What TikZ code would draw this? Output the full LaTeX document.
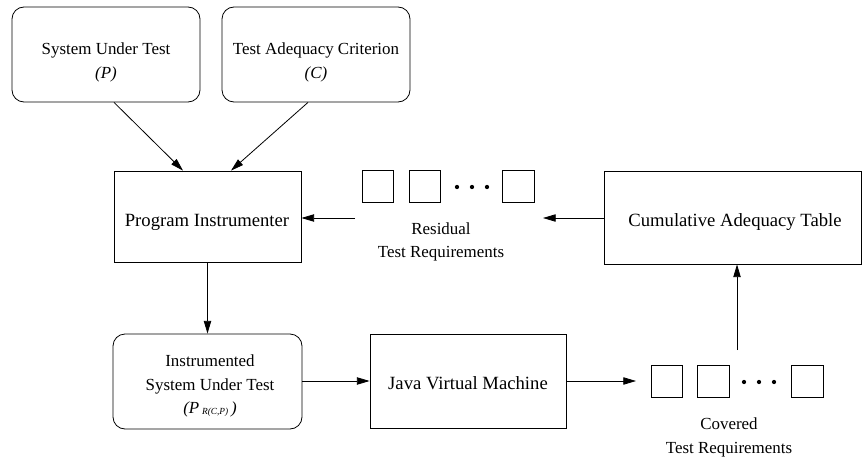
\documentclass[tikz,border=0pt]{standalone}
\usepackage{fontspec}
\setmainfont{Liberation Serif}
\usetikzlibrary{arrows.meta,calc}

\begin{document}
\begin{tikzpicture}[x=0.75pt,y=-0.75pt,
  line width=0.6pt,
  box/.style={draw,rectangle,inner sep=0pt},
  rbox/.style={box,rounded corners=9pt},
  big/.style={font=\fontsize{14}{17}\selectfont,inner sep=0pt},
  small/.style={font=\fontsize{12.7}{17.7}\selectfont,align=center,inner sep=0pt},
  req/.style={draw,rectangle,inner sep=0pt,minimum width=23.5pt,minimum height=23.5pt},
  dot/.style={fill,circle,inner sep=0pt,minimum size=3.2pt},
  flow/.style={-{Triangle[length=9.5pt,width=5.5pt]}}
]
\useasboundingbox (0,0) rectangle (862,456);

% inputs
\node[rbox,minimum width=141pt,minimum height=71.25pt] (sut) at (106,54.5) {};
\node[small] (suttext) at (106,62.5) {System Under Test\\\textit{(P)}};
\node[rbox,minimum width=141pt,minimum height=71.25pt] (tac) at (316,54.5) {};
\node[small] (tactext) at (316,62.5) {Test Adequacy Criterion\\\textit{(C)}};

% instrumenter
\node[box,minimum width=140.25pt,minimum height=68.25pt] (pi) at (207.5,216.5) {};
\node[big] (pitext) at (207,222) {Program Instrumenter};

% cumulative adequacy table
\node[box,minimum width=192.75pt,minimum height=69.75pt] (cum) at (732.5,217.5) {};
\node[big] (cumtext) at (735,222) {Cumulative Adequacy Table};

% instrumented program
\node[rbox,minimum width=141.75pt,minimum height=71.25pt] (isut) at (207.5,381.5) {};
\node[small] (isuttext) at (210,386) {Instrumented\\System Under Test\\
  \textit{(P}\,\raisebox{-0.8pt}{\fontsize{7}{8}\selectfont\textit{R(C,P)}}\,\textit{)}};

% virtual machine
\node[box,minimum width=147pt,minimum height=70.5pt] (jvm) at (468,381) {};
\node[big] (jvmtext) at (468,383.5) {Java Virtual Machine};

% residual test requirements
\node[req] (r1) at (378,186.5) {};
\node[req] (r2) at (425,186.5) {};
\node[dot] (rd1) at (457,187) {};
\node[dot] (rd2) at (472,187) {};
\node[dot] (rd3) at (487,187) {};
\node[req] (r3) at (518.5,186.5) {};
\node[small] (reslabel) at (441,242) {Residual\\Test Requirements};

% covered test requirements
\node[req] (c1) at (667,381.5) {};
\node[req] (c2) at (713.5,381.5) {};
\node[dot] (cd1) at (744,382) {};
\node[dot] (cd2) at (759,382) {};
\node[dot] (cd3) at (774,382) {};
\node[req] (c3) at (807.5,381.5) {};
\node[small] (covlabel) at (729,437.5) {Covered\\Test Requirements};

% free ends of the connectors beside the requirement lists
\coordinate (resin) at (543,218);
\coordinate (resout) at (355,218);
\coordinate (covin) at (636,381);
\coordinate (covout) at (737,350);

% connectors
\draw[flow] ($(sut.south)+(8,0)$) -- ($(pi.north)+(-24.5,0)$);
\draw[flow] ($(tac.south)+(-8,0)$) -- ($(pi.north)+(23.5,0)$);
\draw[flow] (pi.south) -- (isut.north);
\draw[flow] (isut.east |- jvm.west) -- (jvm.west);
\draw[flow] (jvm.east) -- (covin);
\draw[flow] (covout) -- (covout |- cum.south);
\draw[flow] (cum.west |- resin) -- (resin);
\draw[flow] (resout) -- (resout -| pi.east);
\end{tikzpicture}
\end{document}
